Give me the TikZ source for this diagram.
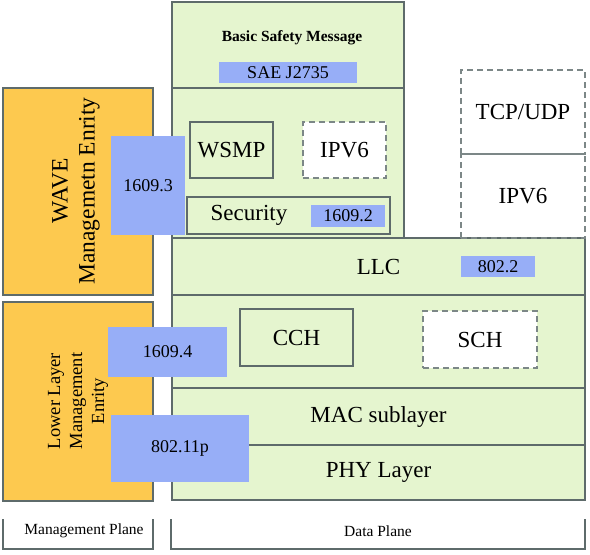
\documentclass[tikz,border=0pt]{standalone}
\usepackage{fontspec}
\setmainfont{Liberation Serif}
\definecolor{gfill}{HTML}{E5F5CF}
\definecolor{ofill}{HTML}{FDC94F}
\definecolor{bfill}{HTML}{97AEF7}
\definecolor{edge}{HTML}{5E6B6B}
\definecolor{dedge}{HTML}{7C8787}
\tikzset{
  base/.style={rectangle, inner sep=0pt, outer sep=0pt, anchor=north west},
  gbox/.style={base, draw=edge, line width=1.3pt, fill=gfill},
  obox/.style={base, draw=edge, line width=1.3pt, fill=ofill},
  wbox/.style={base, draw=dedge, line width=1.3pt, fill=white, dash pattern=on 6pt off 4pt},
  dbox/.style={base, draw=dedge, line width=1.3pt, dash pattern=on 6pt off 4pt},
  bbox/.style={base, fill=bfill},
  big/.style={font=\fontsize{23}{27}\selectfont},
  mid/.style={font=\fontsize{18}{21}\selectfont},
  small/.style={font=\fontsize{15.5}{18}\selectfont},
  bracket/.style={draw=edge, line width=2.2pt},
}
\begin{document}
\begin{tikzpicture}[x=1pt,y=-1pt]
\useasboundingbox (0,0) rectangle (590,555);
% data plane layers
\node[gbox, minimum width=232pt, minimum height=86pt] (bsm) at (172,2) {};
\node[gbox, minimum width=232pt, minimum height=150pt] (app) at (172,88) {};
\node[gbox, minimum width=413pt, minimum height=57pt] (llc) at (172,238) {};
\node[gbox, minimum width=413pt, minimum height=93pt] (chan) at (172,295) {};
\node[gbox, minimum width=413pt, minimum height=57pt] (mac) at (172,388) {};
\node[gbox, minimum width=413pt, minimum height=55pt] (phy) at (172,445) {};
% management plane
\node[obox, minimum width=150pt, minimum height=207pt] (wave) at (3,88) {};
\node[obox, minimum width=150pt, minimum height=199pt] (lower) at (3,302) {};
% inner boxes
\node[gbox, minimum width=83pt, minimum height=56pt, big] (wsmp) at (190,122) {WSMP};
\node[wbox, minimum width=83pt, minimum height=56pt, big] (ipva) at (303,122) {IPV6};
\node[gbox, minimum width=203pt, minimum height=37pt] (sec) at (187,197) {};
\node[big] (sectxt) at (249,215) {Security};
\node[bbox, minimum width=74pt, minimum height=22pt, mid] (b2) at (311,205) {1609.2};
\node[bbox, minimum width=138pt, minimum height=21pt, mid] (sae) at (219,62) {SAE J2735};
\node[small, font=\fontsize{15.5}{18}\selectfont\bfseries] (bsmtxt) at (292,38) {Basic Safety Message};
\node[dbox, minimum width=124pt, minimum height=84pt, big] (tcp) at (461,70) {TCP/UDP};
\node[dbox, minimum width=124pt, minimum height=84pt, big] (ipvb) at (461,154) {IPV6};
\node[big] (llctxt) at (378.5,266.5) {LLC};
\node[bbox, minimum width=74pt, minimum height=21pt, mid] (b8022) at (461,256) {802.2};
\node[gbox, minimum width=113pt, minimum height=57pt, big] (cch) at (240,309) {CCH};
\node[wbox, minimum width=114pt, minimum height=57pt, big] (sch) at (423,311) {SCH};
\node[big] (mactxt) at (378.5,416.5) {MAC sublayer};
\node[big] (phytxt) at (378.5,472.5) {PHY Layer};
% blue interface boxes
\node[bbox, minimum width=74pt, minimum height=99pt, mid] (b3) at (111,136) {1609.3};
\node[bbox, minimum width=119pt, minimum height=50pt, mid] (b4) at (108,327) {1609.4};
\node[bbox, minimum width=138pt, minimum height=67pt, mid] (b11p) at (111,415) {802.11p};
% rotated labels
\node[big, rotate=90, align=center, font=\fontsize{23.5}{27}\selectfont] (wavetxt) at (76,191) {WAVE\\Managemetn Enrity};
\node[rotate=90, align=center, font=\fontsize{18.5}{22}\selectfont] (lowertxt) at (78,401) {Lower Layer\\Management\\Enrity};
% plane brackets
\draw[bracket] (3,519) -- (3,549) -- (153,549) -- (153,519);
\draw[bracket] (171,519) -- (171,549) -- (585,549) -- (585,519);
\node[small] (mp) at (84,531) {Management Plane};
\node[small] (dp) at (378,531) {Data Plane};
\end{tikzpicture}
\end{document}
